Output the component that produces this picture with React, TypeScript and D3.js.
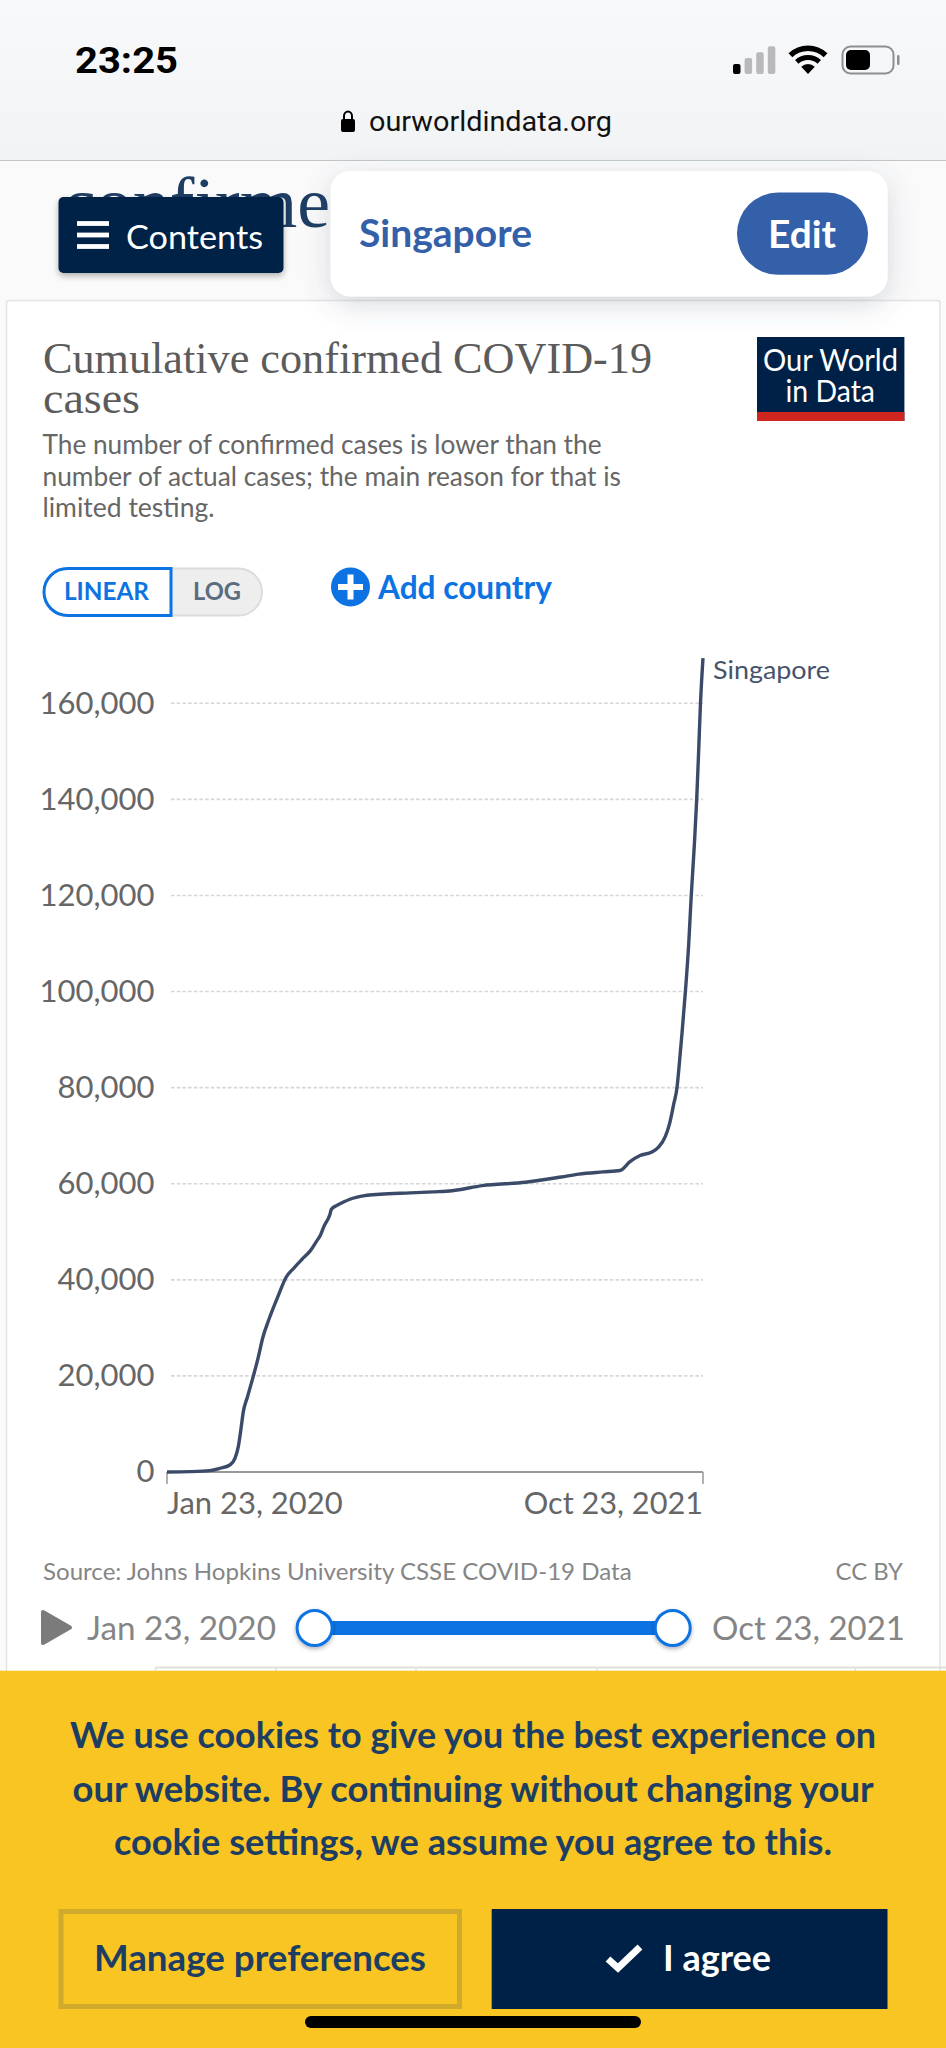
import React from "react";
import * as d3 from "d3";

// Days since Jan 23, 2020
const dayOffsets = [0, 27, 51, 63, 75, 81, 85, 88, 91, 96, 103, 109, 114, 122, 133, 142, 151, 161, 171, 178, 183, 187, 194, 196, 202, 210, 218, 236, 254, 290, 317, 340, 376, 427, 470, 491, 520, 540, 552, 564, 578, 586, 594, 599, 604, 608, 611, 614, 618, 622, 625, 628.5, 631.5, 633.8, 636, 639];
// Singapore, cumulative confirmed cases
const cases = [0, 70, 280, 760, 1460, 2850, 5270, 8740, 12560, 15680, 20000, 24000, 27830, 32000, 36850, 40530, 42400, 44280, 46080, 47960, 49340, 51080, 53500, 54690, 55450, 56150, 56770, 57530, 57810, 58090, 58300, 58540, 59600, 60300, 61400, 62000, 62460, 62750, 64600, 65870, 66600, 67600, 69800, 72400, 76500, 80000, 85400, 91400, 100000, 110000, 120000, 130000, 140000, 150000, 160000, 169400];
const yTicks = [0, 20000, 40000, 60000, 80000, 100000, 120000, 140000, 160000];
const xDomainDays = [0, 639];
const startLabel = "Jan 23, 2020";
const endLabel = "Oct 23, 2021";
const seriesName = "Singapore";
const titleLines = ["Cumulative confirmed COVID-19", "cases"];
const subtitleLines = [
  "The number of confirmed cases is lower than the",
  "number of actual cases; the main reason for that is",
  "limited testing.",
];
const cookieLines = [
  "We use cookies to give you the best experience on",
  "our website. By continuing without changing your",
  "cookie settings, we assume you agree to this.",
];

const LATO = "Lato, sans-serif";
const NAVY = "#002147";
const INK = "#1d3d63";
const BLUE = "#0d73e2";
const EDIT = "#3360a9";
const GREY = "#666666";

type TP = { x: number; y: number; w?: number; s: number; c: string; f?: string; b?: number; a?: "start" | "middle" | "end"; children: React.ReactNode };
const T = ({ x, y, w, s, c, f = LATO, b = 400, a = "start", children }: TP) => (
  <text x={x} y={y} fontSize={s} fill={c} fontFamily={f} fontWeight={b} textAnchor={a}
    {...(w ? { textLength: w, lengthAdjust: "spacingAndGlyphs" as const } : {})}>
    {children}
  </text>
);

const x = d3.scaleLinear().domain(xDomainDays).range([167, 703]);
const y = d3.scaleLinear().domain([0, 160000]).range([1472, 703.3]);
const linePath = d3
  .line<number>()
  .x((_, i) => x(dayOffsets[i]))
  .y((d) => y(d))
  .curve(d3.curveMonotoneX)(cases) as string;
const fmt = d3.format(",");

const wifiArc = d3.arc().startAngle(-0.75).endAngle(0.75);
const wifiRings = [
  [23, 28.5],
  [14, 19],
  [0, 10],
];

export default function App() {
  return (
    <svg width={946} height={2048} viewBox="0 0 946 2048"
      style={{ position: "absolute", left: 0, top: 0, display: "block" }}>
      <defs>
        <linearGradient id="top" x1="0" y1="0" x2="0" y2="1">
          <stop offset="0" stopColor="#f8f9fa" />
          <stop offset="1" stopColor="#f2f3f5" />
        </linearGradient>
        <filter id="panelShadow" x="-20%" y="-30%" width="140%" height="190%">
          <feDropShadow dx="0" dy="8" stdDeviation="14" floodColor="#4a5a75" floodOpacity="0.22" />
        </filter>
        <filter id="btnShadow" x="-10%" y="-20%" width="120%" height="150%">
          <feDropShadow dx="0" dy="3" stdDeviation="3" floodColor="#000" floodOpacity="0.3" />
        </filter>
        <filter id="handleShadow" x="-40%" y="-40%" width="180%" height="200%">
          <feDropShadow dx="0" dy="2" stdDeviation="2" floodColor="#000" floodOpacity="0.3" />
        </filter>
      </defs>

      <rect x={0} y={0} width={946} height={2048} fill="#fafafa" />
      <rect x={0} y={0} width={946} height={160} fill="url(#top)" />
      <line x1={0} x2={946} y1={160.5} y2={160.5} stroke="#c6c6c8" strokeWidth={1} />

      {/* status bar */}
      <T x={75} y={73} w={103} s={36} b={700} c="#000" f="Roboto, sans-serif">23:25</T>
      {[0, 1, 2, 3].map((i) => (
        <rect key={i} x={733 + i * 11.6} y={74 - (10 + i * 5.9)} width={7.5} height={10 + i * 5.9} rx={2}
          fill={i === 0 ? "#000" : "#b9b9bb"} />
      ))}
      <g transform="translate(808,74)">
        {wifiRings.map(([r0, r1], i) => (
          <path key={i} d={wifiArc({ innerRadius: r0, outerRadius: r1 } as any) as string} fill="#000" />
        ))}
      </g>
      <rect x={842.5} y={46.5} width={51} height={27} rx={8} fill="none" stroke="#8e8e90" strokeWidth={2} />
      <rect x={846} y={50} width={24} height={20} rx={5} fill="#000" />
      <rect x={897} y={55} width={2.5} height={10} rx={1.2} fill="#8e8e90" />

      {/* address */}
      <rect x={341} y={119} width={14} height={13} rx={2} fill="#000" />
      <path d="M344,120 v-4 a4,4.5 0 0 1 8,0 v4" fill="none" stroke="#000" strokeWidth={2} />
      <T x={369} y={131} w={243} s={28} c="#111" f="Roboto, sans-serif">ourworldindata.org</T>

      {/* page heading behind the floating bars */}
      <T x={63} y={227} w={267} s={72} c={INK} f="'Liberation Serif', serif">confirme</T>

      {/* contents */}
      <rect x={58.5} y={197} width={225} height={76} rx={5} fill={NAVY} filter="url(#btnShadow)" />
      {[223.5, 235, 246.5].map((v) => (
        <rect key={v} x={77} y={v - 2.4} width={32} height={4.8} fill="#fff" />
      ))}
      <T x={126} y={249} w={137} s={33} c="#fff">Contents</T>

      {/* card */}
      <rect x={6.5} y={300.5} width={933.5} height={1400} rx={3} fill="#fff" stroke="#e4e4e4" strokeWidth={1.5} />

      {/* country panel */}
      <rect x={330.6} y={171} width={557} height={125.6} rx={20} fill="#fff" filter="url(#panelShadow)" />
      <T x={359} y={247} w={173} s={38} b={700} c={EDIT}>Singapore</T>
      <rect x={737} y={192.6} width={131} height={82.2} rx={41} fill={EDIT} />
      <T x={768} y={248} w={68} s={38} b={700} c="#fff">Edit</T>

      {/* header */}
      {titleLines.map((t, i) => (
        <T key={t} x={43} y={372.7 + i * 40.7} w={i === 0 ? 609 : 97} s={44} c="#5b5b5b" f="'Liberation Serif', serif">{t}</T>
      ))}
      {subtitleLines.map((t, i) => (
        <T key={t} x={42.5} y={454 + i * 31.5} w={[559, 578.5, 172][i]} s={26} c={GREY}>{t}</T>
      ))}
      <rect x={757} y={337} width={147.4} height={84} fill={NAVY} />
      <rect x={757} y={412} width={147.4} height={9} fill="#ce261e" />
      <T x={763} y={370.5} w={135} s={31} c="#fff">Our World</T>
      <T x={785.5} y={402} w={89.5} s={31} c="#fff">in Data</T>

      {/* toggle */}
      <path d="M171,568.5 H238.5 a23.5,23.5 0 0 1 0,47 H171 Z" fill="#eeeeee" stroke="#dcdcdc" strokeWidth={2} />
      <path d="M171,568.5 H67.5 a23.5,23.5 0 0 0 0,47 H171 Z" fill="#fff" stroke={BLUE} strokeWidth={3} />
      <T x={64} y={600} w={85} s={25} b={700} c={BLUE}>LINEAR</T>
      <T x={193} y={600} w={48} s={25} b={700} c="#5b6b80">LOG</T>
      <circle cx={350.5} cy={587} r={19.5} fill={BLUE} />
      <rect x={338} y={584} width={25} height={6} fill="#fff" />
      <rect x={347.5} y={574.5} width={6} height={25} fill="#fff" />
      <T x={378} y={599} w={174} s={33} b={700} c={BLUE}>Add country</T>

      {/* chart */}
      {yTicks.map((t) => (
        <g key={t}>
          {t > 0 && (
            <line x1={171} x2={703} y1={y(t)} y2={y(t)} stroke="#d6d6d6" strokeWidth={1.6} strokeDasharray="3.5,2.2" />
          )}
          <T x={154.5} y={y(t) + 10.4} s={31} c={GREY} a="end">{fmt(t)}</T>
        </g>
      ))}
      <line x1={167} x2={703} y1={y(0)} y2={y(0)} stroke="#999" strokeWidth={2} />
      {xDomainDays.map((d) => (
        <line key={d} x1={x(d)} x2={x(d)} y1={y(0)} y2={1484} stroke="#999" strokeWidth={1.5} />
      ))}
      <path d={linePath} fill="none" stroke="#3a4a68" strokeWidth={3.4} strokeLinejoin="round" />
      <T x={713} y={679} w={117} s={25} c="#46536b">{seriesName}</T>
      <T x={x(0)} y={1514.3} w={175.6} s={31} c={GREY}>{startLabel}</T>
      <T x={523.7} y={1514.3} w={179.3} s={31} c={GREY}>{endLabel}</T>

      <T x={43} y={1580} w={588.7} s={24} c="#858585">Source: Johns Hopkins University CSSE COVID-19 Data</T>
      <T x={835.6} y={1580} w={67.4} s={24} c="#858585">CC BY</T>

      {/* timeline */}
      <path d="M43,1612 L70,1627.5 L43,1643 Z" fill="#7b7b7b" stroke="#7b7b7b" strokeWidth={4} strokeLinejoin="round" />
      <T x={87} y={1640} w={189} s={33} c="#858585">{startLabel}</T>
      <line x1={x(0) + 147.6} x2={672.7} y1={1628} y2={1628} stroke={BLUE} strokeWidth={14} />
      {[314.6, 672.7].map((cx) => (
        <circle key={cx} cx={cx} cy={1628} r={17.5} fill="#fff" stroke={BLUE} strokeWidth={3} filter="url(#handleShadow)" />
      ))}
      <T x={712} y={1640} w={193} s={33} c="#858585">{endLabel}</T>

      {/* table peeking out */}
      <line x1={155.6} x2={946} y1={1667.5} y2={1667.5} stroke="#e0e0e0" strokeWidth={2} />
      {[155.6, 276, 416, 597, 855.5].map((v) => (
        <line key={v} x1={v} x2={v} y1={1667} y2={1671} stroke="#e0e0e0" strokeWidth={1.5} />
      ))}

      {/* cookie notice */}
      <rect x={0} y={1670.7} width={946} height={377.3} fill="#f8c522" />
      {cookieLines.map((t, i) => (
        <T key={t} x={473} y={1748.3 + i * 53.35} w={[806, 801, 718][i]} s={36} b={700} c={INK} a="middle">{t}</T>
      ))}
      <rect x={61} y={1911.5} width={398.5} height={95} fill="none" stroke="#cfaa2d" strokeWidth={5} />
      <T x={94} y={1971} w={332} s={37} b={700} c={INK}>Manage preferences</T>
      <rect x={491.7} y={1909} width={395.8} height={100} fill={NAVY} />
      <path d="M608,1959 L618,1968 L640,1947" fill="none" stroke="#fff" strokeWidth={7} />
      <T x={663} y={1971} w={108} s={37} b={700} c="#fff">I agree</T>
      <rect x={305} y={2016} width={336} height={12} rx={6} fill="#000" />
    </svg>
  );
}
